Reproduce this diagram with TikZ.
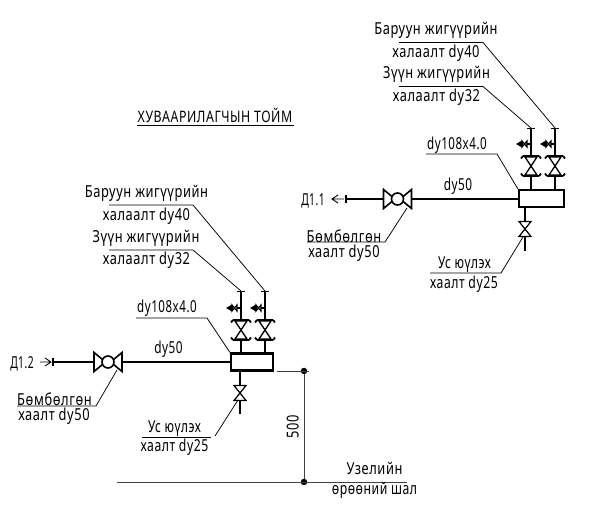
\documentclass[tikz,border=0pt]{standalone}
\usepackage{fontspec}
\setmainfont[FakeStretch=0.78,LetterSpace=3.5]{Noto Sans}
\begin{document}
\begin{tikzpicture}[x=1pt,y=-1pt,
  lbl/.style={inner sep=0pt,yshift=-1.2pt,font=\fontsize{16.5}{16.5}\selectfont,text=black},
  leader/.style={draw=black,line width=0.75pt},
  pipe/.style={draw=black,line width=2.2pt},
  vessel/.style={draw=black,line width=2.2pt,fill=white,minimum width=#1,minimum height=17pt,inner sep=0pt},
  ref/.style={draw=black!75,line width=0.9pt},
  dot/.style={circle,fill=black,inner sep=0pt,minimum size=6.5pt},
  gatev/.pic={
    \draw[line width=1.3pt,fill=white] (-6,-9)--(6,9)--(-6,9)--(6,-9)--cycle;
    \draw[line width=2.2pt] (-8,-10)--(8,-10) (-8,10)--(8,10);
    \draw[line width=1.8pt] (-10,-7.5)--(-8,-10) (10,-7.5)--(8,-10) (-10,7.5)--(-8,10) (10,7.5)--(8,10);
  },
  sidev/.pic={
    \fill (-15,0)--(-9.5,-3.2)--(-8,0)--(-9.5,3.2)--cycle;
    \draw[line width=1.2pt] (-9,-3)--(-4,3)--(-4,-3)--(-9,3)--cycle;
    \draw[line width=1.2pt] (-4,0)--(0,0);
  },
  ballv/.pic={
    \draw[line width=1.6pt,fill=white] (-5,-2)--(-14,-9.5)--(-14,9.5)--(-5,2);
    \draw[line width=1.6pt,fill=white] (5,-2)--(14,-9.5)--(14,9.5)--(5,2);
    \draw[line width=1.6pt,fill=white] (0,0) circle (6);
  },
  smallv/.pic={
    \draw[line width=1.2pt,fill=white] (-6,-7.5)--(6,7.5)--(-6,7.5)--(6,-7.5)--cycle;
  }]
\useasboundingbox (0,0) rectangle (605,518);

% title
\node[lbl,font=\fontsize{15.8}{16}\selectfont] (title) at (215,114) {ХУВААРИЛАГЧЫН ТОЙМ};
\coordinate (tl) at (137,125); \coordinate (tr) at (294,125);
\draw[leader] (tl)--(tr);

% ---- upper right group
\node[vessel=45pt] (boxA) at (541.5,198.5) {};
\coordinate (inA) at (346,199);
\coordinate (r1Atop) at (531,128); \coordinate (r2Atop) at (555,128);
\coordinate (r1Abot) at (531,190); \coordinate (r2Abot) at (555,190);
\coordinate (dA) at (525,251); \coordinate (dAtop) at (525,207);
\draw[pipe] (inA)--(boxA.west |- inA);
\draw[pipe] (r1Atop)--(r1Abot) (r2Atop)--(r2Abot) (dAtop)--(dA);
\draw[line width=1.1pt] (346,195)--(346,203);
\draw[line width=.8pt] (527,128)--(535,128) (551,128)--(559,128);
\draw[line width=.9pt] (344,199)--(332,199) (338,195)--(332,199)--(338,203);
\pic at (397.5,199) {ballv};
\pic at (531,166) {gatev};
\pic at (555,166) {gatev};
\pic at (531,144) {sidev};
\pic at (555,144) {sidev};
\pic at (525,229) {smallv};

\node[lbl] (a1) at (436,29) {Баруун жигүүрийн};
\node[lbl] (a2) at (436,52) {халаалт dy40};
\node[lbl] (a3) at (436.5,73) {Зүүн жигүүрийн};
\node[lbl] (a4) at (436.5,96) {халаалт dy32};
\node[lbl,xscale=.9] (a5) at (457,144) {dy108x4.0};
\node[lbl,xscale=.92] (a6) at (458,185) {dy50};
\node[lbl,xscale=.8] (a7) at (313,200) {Д1.1};
\node[lbl] (a8) at (344,235) {Бөмбөлгөн};
\node[lbl] (a9) at (344,252) {хаалт dy50};
\node[lbl,xscale=.92] (a10) at (464.5,263) {Ус юүлэх};
\node[lbl,xscale=.95] (a11) at (464,283) {хаалт dy25};
\draw[leader] (399,42.5)--(483,42.5)--(555,128);
\draw[leader] (399,86.5)--(483,86.5)--(531,128);
\draw[leader] (426,154)--(497,154)--(boxA.north west);
\draw[leader] (307,242)--(385,242)--(407,208);
\draw[leader] (430,273)--(501,273)--(523,237);

% ---- lower left group
\node[vessel=42pt] (boxB) at (252,362) {};
\coordinate (inB) at (53,362);
\coordinate (r1Btop) at (241,291); \coordinate (r2Btop) at (265,291);
\coordinate (r1Bbot) at (241,353); \coordinate (r2Bbot) at (265,353);
\coordinate (dB) at (240,414); \coordinate (dBtop) at (240,371);
\draw[pipe] (inB)--(boxB.west |- inB);
\draw[pipe] (r1Btop)--(r1Bbot) (r2Btop)--(r2Bbot) (dBtop)--(dB);
\draw[line width=1.1pt] (53,358)--(53,366);
\draw[line width=.8pt] (237,291)--(245,291) (261,291)--(269,291);
\draw[line width=.9pt] (40,362)--(51,362) (45,358)--(51,362)--(45,366);
\pic at (108,362) {ballv};
\pic at (241,330) {gatev};
\pic at (265,330) {gatev};
\pic at (241,308) {sidev};
\pic at (265,308) {sidev};
\pic at (240,393) {smallv};

\node[lbl] (b1) at (146.5,192) {Баруун жигүүрийн};
\node[lbl] (b2) at (146.5,215) {халаалт dy40};
\node[lbl] (b3) at (146,237) {Зүүн жигүүрийн};
\node[lbl] (b4) at (146.5,259) {халаалт dy32};
\node[lbl,xscale=.9] (b5) at (167,307) {dy108x4.0};
\node[lbl,xscale=.92] (b6) at (168.5,348) {dy50};
\node[lbl,xscale=.8] (b7) at (22,363) {Д1.2};
\node[lbl] (b8) at (54.5,398) {Бөмбөлгөн};
\node[lbl] (b9) at (54,415) {хаалт dy50};
\node[lbl,xscale=.92] (b10) at (174.5,427) {Ус юүлэх};
\node[lbl,xscale=.95] (b11) at (174.5,446) {хаалт dy25};
\draw[leader] (109,205)--(193,205)--(265,291);
\draw[leader] (109,250)--(193,250)--(241,291);
\draw[leader] (136,318)--(207,318)--(boxB.north west);
\draw[leader] (17,406)--(96,406)--(117,370);
\draw[leader] (142,437)--(211,437);
\draw[leader] (215,436)--(238,400);

% ---- dimension
\node[dot] (d1) at (304,371) {};
\node[dot] (d2) at (304,482) {};
\coordinate (h1a) at (277,371); \coordinate (h1b) at (309,371);
\coordinate (h2a) at (117,482); \coordinate (h2b) at (407,482);
\draw[ref] (h1a)--(h1b) (h2a)--(h2b) (d1)--(d2);
\node[lbl,rotate=90,yshift=1.2pt] (dim) at (294,426) {500};
\node[lbl] (f1) at (374.5,467) {Узелийн};
\node[lbl,xscale=.95] (f2) at (374.5,489) {өрөөний шал};
\end{tikzpicture}
\end{document}
